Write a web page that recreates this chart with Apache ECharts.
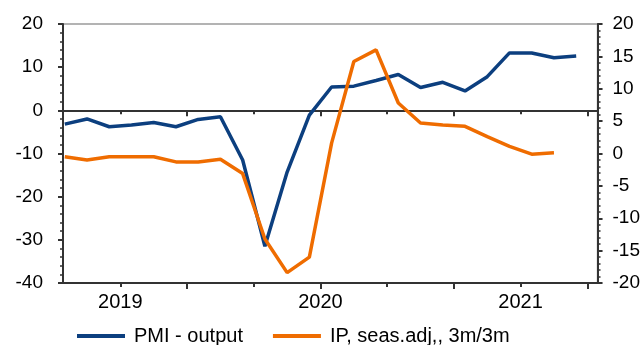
<!DOCTYPE html>
<html>
<head>
<meta charset="utf-8">
<script src="https://cdn.jsdelivr.net/npm/echarts@6/dist/echarts.min.js"></script>
<style>
  html, body { margin: 0; padding: 0; background: #fff; }
  #chart { width: 643px; height: 345px; }
</style>
</head>
<body>
<div id="chart"></div>
<script>
// Observation index along the x axis (one entry per point)
const pmiOutput = [-3.2, -2.0, -3.8, -3.4, -2.8, -3.8, -2.1, -1.5, -11.5, -31.5, -14.3, -1.1,
                   5.4, 5.6, 6.9, 8.3, 5.3, 6.5, 4.5, 7.8, 13.3, 13.3, 12.2, 12.6];
const ipSeasAdj = [-0.5, -1.0, -0.5, -0.5, -0.5, -1.3, -1.3, -0.9, -3.1, -13.2, -18.4, -16.0,
                   1.6, 14.2, 16.0, 7.8, 4.7, 4.4, 4.2, 2.6, 1.1, -0.1, 0.1];

// Year labels and their positions on the index scale
const yearLabels = ['2019', '2020', '2021'];
const yearPositions = [2.5, 11.5, 20.5];
// Tick marks between observations: long and short alternate
const longTicks = [5.5, 11.5, 17.5, 23.5];
const shortTicks = [2.5, 8.5, 14.5, 20.5];

const seriesNames = ['PMI - output', 'IP, seas.adj,, 3m/3m'];

const FONT = "'Liberation Sans', Arial, sans-serif";
const AXIS_DARK = '#333333';
const X_MIN = -0.08, X_MAX = 23.96;

function toPairs(arr) { return arr.map((v, i) => [i, v]); }

function xAxisBase(extra) {
  return Object.assign({
    type: 'value', min: X_MIN, max: X_MAX,
    splitLine: { show: false },
    axisLabel: { show: false },
    axisLine: { show: false }
  }, extra);
}

const chart = echarts.init(document.getElementById('chart'), null, { renderer: 'canvas' });

chart.setOption({
  animation: false,
  textStyle: { fontFamily: FONT },
  grid: {
    left: 63, right: 45, top: 24, bottom: 62,
    show: true, borderColor: '#9a9a9a', borderWidth: 1.5, backgroundColor: 'transparent'
  },
  legend: {
    left: 72, top: 321,
    itemWidth: 48, itemHeight: 4, itemGap: 30,
    icon: 'rect',
    textStyle: { fontFamily: FONT, fontSize: 20, color: '#000', padding: [0, 0, 0, 4] },
    data: seriesNames
  },
  xAxis: [
    // bottom axis with labels and long ticks
    xAxisBase({
      position: 'bottom',
      axisLine: { show: true, onZero: false, lineStyle: { color: AXIS_DARK, width: 2 } },
      axisTick: { show: true, inside: false, length: 6, customValues: longTicks,
                  lineStyle: { color: AXIS_DARK, width: 2 } },
      axisLabel: {
        show: true, customValues: yearPositions, margin: 9,
        fontFamily: FONT, fontSize: 20, color: '#000',
        formatter: v => { const k = yearPositions.findIndex(p => Math.abs(p - v) < 1e-6); return k >= 0 ? yearLabels[k] : ''; }
      }
    }),
    // bottom axis short ticks
    xAxisBase({
      position: 'bottom',
      axisLine: { show: false, onZero: false },
      axisTick: { show: true, inside: false, length: 4, customValues: shortTicks,
                  lineStyle: { color: AXIS_DARK, width: 2 } }
    }),
    // zero line with long ticks pointing down
    xAxisBase({
      position: 'top',
      axisLine: { show: true, onZero: true, onZeroAxisIndex: 0, lineStyle: { color: AXIS_DARK, width: 2 } },
      axisTick: { show: true, inside: true, length: 6, customValues: longTicks,
                  lineStyle: { color: AXIS_DARK, width: 2 } }
    }),
    // zero line short ticks
    xAxisBase({
      position: 'top',
      axisLine: { show: false, onZero: true, onZeroAxisIndex: 0 },
      axisTick: { show: true, inside: true, length: 4, customValues: shortTicks,
                  lineStyle: { color: AXIS_DARK, width: 2 } }
    })
  ],
  yAxis: [
    {
      type: 'value', position: 'left', min: -40, max: 20, interval: 10,
      splitLine: { show: false },
      axisLine: { show: true, onZero: false, lineStyle: { color: AXIS_DARK, width: 2 } },
      axisTick: { show: true, inside: false, length: 5, lineStyle: { color: AXIS_DARK, width: 2 } },
      minorTick: { show: true, splitNumber: 5, length: 3, lineStyle: { color: AXIS_DARK, width: 1.5 } },
      axisLabel: { margin: 20, fontFamily: FONT, fontSize: 19, color: '#000' }
    },
    {
      type: 'value', position: 'right', min: -20, max: 20, interval: 5,
      splitLine: { show: false },
      axisLine: { show: true, onZero: false, lineStyle: { color: AXIS_DARK, width: 2 } },
      axisTick: { show: true, inside: false, length: 5, lineStyle: { color: AXIS_DARK, width: 2 } },
      minorTick: { show: true, splitNumber: 5, length: 3, lineStyle: { color: AXIS_DARK, width: 1.5 } },
      axisLabel: { margin: 15, fontFamily: FONT, fontSize: 19, color: '#000' }
    }
  ],
  series: [
    {
      name: seriesNames[0], type: 'line', xAxisIndex: 0, yAxisIndex: 0,
      data: toPairs(pmiOutput), symbol: 'none',
      lineStyle: { color: '#0c3f7f', width: 3.5 }, itemStyle: { color: '#0c3f7f' }
    },
    {
      name: seriesNames[1], type: 'line', xAxisIndex: 0, yAxisIndex: 1,
      data: toPairs(ipSeasAdj), symbol: 'none',
      lineStyle: { color: '#ef6c00', width: 3.5 }, itemStyle: { color: '#ef6c00' }
    }
  ]
});
</script>
</body>
</html>
